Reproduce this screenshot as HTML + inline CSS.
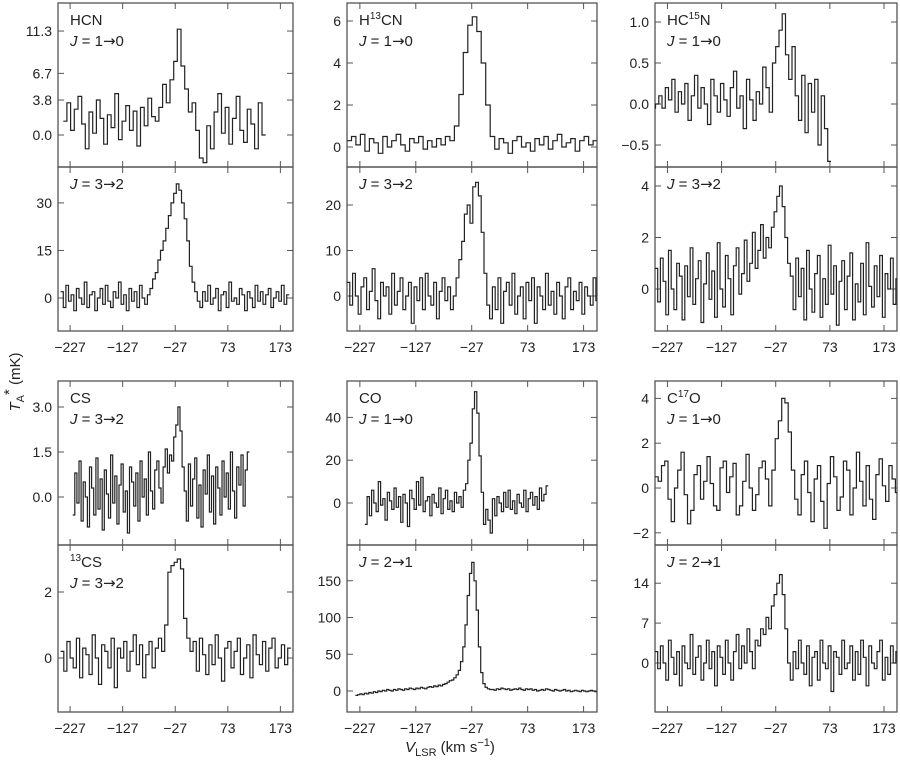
<!DOCTYPE html>
<html><head><meta charset="utf-8"><style>
body{margin:0;background:#fff;width:900px;height:763px;overflow:hidden;font-family:"Liberation Sans",sans-serif}
svg text{font-family:"Liberation Sans",sans-serif;fill:#222}
</style></head><body>
<svg id="chart" width="900" height="763" xmlns="http://www.w3.org/2000/svg">
<text transform="translate(20,382) rotate(-90)" text-anchor="middle" font-size="15"><tspan font-style="italic">T</tspan><tspan font-size="11" dy="4">A</tspan><tspan dy="-10">*</tspan><tspan dy="6"> (mK)</tspan></text>
<text x="450" y="752" text-anchor="middle" font-size="15"><tspan font-style="italic">V</tspan><tspan font-size="11" dy="4">LSR</tspan><tspan dy="-4"> (km s</tspan><tspan font-size="11" dy="-6">−1</tspan><tspan dy="6">)</tspan></text>
</svg>
<script>
const xTicks=[-227,-127,-27,73,173];
const hcn10=[1.5,3.5,0.5,2.8,4.2,1.2,-1.5,2.5,0.2,3.8,1.8,-1.0,2.2,0.8,4.5,-0.5,1.5,3.2,0.5,2.6,-1.2,3.0,1.0,4.0,2.0,1.5,3.0,5.5,3.5,6.0,8.0,11.5,7.5,5.0,2.5,3.5,0.5,-2.5,-3.0,1.0,-1.5,2.5,4.5,0.2,3.0,-1.0,1.8,4.2,0.5,-0.8,2.8,1.2,-1.5,3.5,0.0];
const hcn32=[2,-3,4,-1,1,-4,3,0,-2,5,-3,1,2,-4,0,3,-2,4,-1,-3,2,0,5,-2,1,-4,3,-1,2,-3,4,0,-2,1,3,6,8,12,15,18,22,26,30,33,36,34,30,25,18,10,5,2,-1,-3,2,-1,4,-2,0,3,-4,1,2,-3,5,-1,0,-2,3,1,-4,2,0,-3,4,-1,2,-2,1,3,-3,0,2,-1,4,-2,1];
const h13cn10=[0.3,0.5,0.1,0.6,-0.2,0.4,0.2,-0.3,0.5,0.0,0.3,0.6,0.1,-0.2,0.4,0.2,0.5,-0.1,0.3,0.0,0.4,0.1,0.5,0.3,1.0,2.5,4.5,5.8,6.2,5.5,4.0,2.0,0.5,-0.1,0.4,0.2,-0.3,0.3,0.5,0.0,0.2,-0.2,0.4,0.1,0.5,-0.1,0.3,0.6,0.0,0.2,0.4,-0.2,0.3,0.5,0.1,0.3];
const h13cn32=[3,-2,5,0,-4,2,4,-3,1,6,-1,-5,3,0,2,-4,5,-2,1,4,-3,0,3,-6,2,-1,4,-3,5,0,-2,3,-5,1,4,-1,2,-3,0,4,8,12,18,20,16,24,25,22,14,5,-2,-5,2,-3,4,-6,1,3,-2,5,-4,0,2,-5,3,-1,4,-6,2,0,-3,5,-2,1,-4,3,0,-5,2,4,-3,1,-1,3,-4,2,0,-2,4,-1];
const hc15n10=[-0.05,0.0,0.1,-0.05,0.2,0.05,0.3,-0.1,0.15,0.0,0.25,-0.2,0.1,0.35,-0.05,0.2,0.0,-0.25,0.3,0.1,-0.1,0.25,0.05,-0.15,0.2,0.4,-0.05,0.1,-0.3,0.3,0.05,-0.2,0.15,0.0,0.45,0.2,-0.1,0.5,0.7,0.9,1.1,0.6,0.3,0.7,0.1,-0.2,0.35,-0.35,0.25,-0.1,0.3,-0.5,0.1,-0.3,-0.7];
const hc15n32=[0.8,-0.5,1.2,0.3,-1.0,1.5,0.0,-0.8,1.0,0.5,-1.2,0.9,-0.3,1.6,-0.6,0.4,1.1,-1.3,0.2,1.4,-0.4,0.7,-1.1,1.8,0.0,-0.7,1.3,0.4,-1.0,0.9,1.6,-0.2,0.6,1.9,0.3,1.0,2.2,0.8,1.5,2.5,1.2,2.0,1.6,2.4,3.0,3.6,4.0,3.2,2.0,1.0,0.5,-0.8,1.2,-0.3,0.8,-1.2,1.5,0.0,-0.9,0.6,1.3,-1.1,0.4,-0.6,1.7,-0.2,0.9,-1.4,0.3,1.1,-0.8,0.5,1.4,-1.2,0.2,-0.5,1.0,-1.0,1.8,0.1,-0.7,0.9,-0.3,1.3,-1.1,0.6,0.0,1.2,-0.6,0.4];
const cs32=[-0.6,0.8,-0.2,1.2,-0.8,0.5,0.0,-1.0,1.0,0.3,-0.6,1.3,-0.4,0.6,-1.1,0.9,0.1,-0.7,1.4,-0.2,0.7,-0.9,0.4,1.1,-0.5,0.2,-1.2,1.0,0.5,-0.3,0.8,-0.8,1.2,0.0,0.6,-0.6,1.5,0.2,-0.4,0.9,1.2,0.3,-0.2,1.0,1.6,0.8,1.4,1.2,2.0,2.4,3.0,2.2,1.0,0.2,-0.8,1.1,-0.3,0.6,1.3,-0.7,0.4,-1.0,0.9,0.1,1.4,-0.5,0.7,-0.9,1.0,0.3,-0.6,1.2,0.0,0.8,-0.4,1.5,0.2,-0.7,1.0,0.4,1.4,-0.3,0.9,1.5];
const cs13_32=[0.2,-0.4,0.5,0.0,-0.3,0.6,-0.6,0.3,0.1,-0.5,0.7,0.0,-0.8,0.4,0.2,-0.3,0.6,-0.9,0.3,0.0,0.5,-0.4,0.2,0.7,-0.2,0.4,-0.6,0.1,0.5,-0.3,0.3,0.6,0.2,1.0,2.6,2.8,2.9,3.0,2.7,1.2,0.6,0.2,0.5,-0.4,0.6,0.1,-0.5,0.4,-0.2,0.7,0.0,-0.7,0.3,0.5,-0.3,0.2,0.6,-0.5,0.0,0.4,-0.6,0.7,0.1,-0.2,0.5,-0.4,0.3,0.6,-0.3,0.0,0.4,-0.2,0.3];
const co10=[-10,3,-6,6,0,-4,10,-1,2,-8,5,1,-3,7,-2,3,-9,4,0,-11,6,2,-3,10,-1,12,-4,1,3,-6,4,0,-2,7,-5,2,6,-3,1,-4,5,0,3,-2,6,9,20,28,44,52,42,22,5,-10,-3,-8,-14,2,-6,3,0,-4,5,-2,6,-3,1,-5,4,0,-2,6,-4,2,5,-1,3,-3,7,1,4,8];
const co21=[-6,-5,-4,-5,-3,-4,-2,-3,-1,-2,0,-1,1,0,2,1,0,2,1,3,2,1,3,2,4,3,2,4,3,5,4,3,5,6,5,7,6,8,7,9,10,12,14,15,18,22,28,40,60,90,130,160,175,150,110,60,25,10,5,3,2,2,1,3,2,4,3,2,3,1,2,3,2,4,2,1,3,2,3,1,2,0,1,2,1,3,2,1,0,2,1,0,1,2,0,1,-1,0,1,0,-1,1,0,-1,0,1,0,-1];
const c17o10=[0.5,0.3,1.0,1.2,-0.5,-1.5,0.0,0.8,1.6,-0.3,-1.6,-1.0,0.6,1.0,-0.5,0.3,1.4,0.2,-0.8,-1.0,0.9,1.2,-0.2,0.5,1.1,-1.2,-0.8,0.3,1.5,0.0,-1.0,-0.3,0.9,1.2,0.4,-0.8,0.8,2.2,3.0,4.0,3.8,2.5,0.8,-0.5,-1.2,0.6,1.2,-0.2,-1.5,0.4,1.0,-0.6,-1.8,0.2,1.4,0.5,-1.0,-0.4,1.2,0.8,-1.2,0.0,1.6,0.3,-0.8,1.0,-0.5,-1.4,0.6,1.3,0.1,-0.6,1.0,0.4,-0.2];
const c17o21=[2,-1,3,0,-3,4,1,-2,2,-4,3,0,-1,5,-2,1,3,-3,0,4,-1,2,-4,3,1,-2,4,0,-3,2,5,-1,3,0,6,2,-1,4,3,6,5,8,6,10,12,14,15.5,12,6,0,-3,2,-1,4,0,-2,3,-4,1,2,-3,4,0,-1,3,-5,2,1,-2,4,-1,0,3,-3,2,-2,4,1,-4,3,0,-1,2,4,-3,1,-2,3,0,2];

const svg=document.getElementById('chart');
const NS='http://www.w3.org/2000/svg';
const cols=[{x0:58,x1:293},{x0:347,x1:597},{x0:655,x1:897}];
const vmin=-250,vmax=197;
function mk(t,a){const e=document.createElementNS(NS,t);for(const k in a)e.setAttribute(k,a[k]);svg.appendChild(e);return e;}
const panels=[
 {n:'hcn-1-0',c:0,t:3,b:167,y0:135,k:9.2,ticks:[[0,'0.0'],[3.8,'3.8'],[6.7,'6.7'],[11.3,'11.3']],l1:'HCN',l2:'1',l3:'0',d:hcn10,v0:-240,dv:7},
 {n:'hcn-3-2',c:0,t:167,b:331,y0:298,k:3.17,ticks:[[0,'0'],[15,'15'],[30,'30']],l2:'3',l3:'2',d:hcn32,v0:-245,dv:5,xt:1},
 {n:'h13cn-1-0',c:1,t:3,b:167,y0:147,k:21,ticks:[[0,'0'],[2,'2'],[4,'4'],[6,'6']],l1:'H<tspan font-size="10" dy="-6">13</tspan><tspan dy="6">CN</tspan>',l2:'1',l3:'0',d:h13cn10,v0:-250,dv:8},
 {n:'h13cn-3-2',c:1,t:167,b:331,y0:296,k:4.55,ticks:[[0,'0'],[10,'10'],[20,'20']],l2:'3',l3:'2',d:h13cn32,v0:-250,dv:5,xt:1},
 {n:'hc15n-1-0',c:2,t:3,b:167,y0:104,k:82,ticks:[[-0.5,'−0.5'],[0,'0.0'],[0.5,'0.5'],[1,'1.0']],l1:'HC<tspan font-size="10" dy="-6">15</tspan><tspan dy="6">N</tspan>',l2:'1',l3:'0',d:hc15n10,v0:-255,dv:6},
 {n:'hc15n-3-2',c:2,t:167,b:331,y0:289,k:25.75,ticks:[[0,'0'],[2,'2'],[4,'4']],l2:'3',l3:'2',d:hc15n32,v0:-250,dv:5,xt:1},
 {n:'cs-3-2',c:0,t:381,b:545,y0:497,k:30,ticks:[[0,'0.0'],[1.5,'1.5'],[3,'3.0']],l1:'CS',l2:'3',l3:'2',d:cs32,v0:-222,dv:4},
 {n:'13cs-3-2',c:0,t:545,b:712,y0:658,k:33,ticks:[[0,'0'],[2,'2']],l1:'<tspan font-size="10" dy="-6">13</tspan><tspan dy="6">CS</tspan>',l2:'3',l3:'2',d:cs13_32,v0:-245,dv:6,xt:1},
 {n:'co-1-0',c:1,t:381,b:545,y0:503,k:2.14,ticks:[[0,'0'],[20,'20'],[40,'40']],l1:'CO',l2:'1',l3:'0',d:co10,v0:-218,dv:4},
 {n:'co-2-1',c:1,t:545,b:712,y0:691,k:0.735,ticks:[[0,'0'],[50,'50'],[100,'100'],[150,'150']],l2:'2',l3:'1',d:co21,v0:-235,dv:4,xt:1},
 {n:'c17o-1-0',c:2,t:381,b:545,y0:488,k:22.4,ticks:[[-2,'−2'],[0,'0'],[2,'2'],[4,'4']],l1:'C<tspan font-size="10" dy="-6">17</tspan><tspan dy="6">O</tspan>',l2:'1',l3:'0',d:c17o10,v0:-250,dv:6},
 {n:'c17o-2-1',c:2,t:545,b:712,y0:663,k:5.7,ticks:[[0,'0'],[7,'7'],[14,'14']],l2:'2',l3:'1',d:c17o21,v0:-250,dv:5,xt:1}
];
panels.forEach((p,i)=>{
 const c=cols[p.c];
 const xs=v=>c.x0+(v-vmin)/(vmax-vmin)*(c.x1-c.x0);
 const ys=v=>p.y0-v*p.k;
 const r=mk('rect',{x:c.x0,y:p.t,width:c.x1-c.x0,height:p.b-p.t,fill:'none',stroke:'#555','stroke-width':1.3});
 
 
 const cp=mk('clipPath',{id:'cp'+i});
 const cr=document.createElementNS(NS,'rect');cr.setAttribute('x',c.x0);cr.setAttribute('y',p.t);cr.setAttribute('width',c.x1-c.x0);cr.setAttribute('height',p.b-p.t);cp.appendChild(cr);
 p.ticks.forEach(t=>{
  const y=ys(t[0]);
  mk('line',{x1:c.x0,x2:c.x0+6,y1:y,y2:y,stroke:'#555'});
  mk('line',{x1:c.x1,x2:c.x1-6,y1:y,y2:y,stroke:'#555'});
  const tx=mk('text',{x:c.x0-6,y:y+5,'text-anchor':'end','font-size':14});
  tx.textContent=t[1];
  
  
 });
 xTicks.forEach(v=>{
  const x=xs(v);
  mk('line',{x1:x,x2:x,y1:p.b,y2:p.b-6,stroke:'#555'});
  mk('line',{x1:x,x2:x,y1:p.t,y2:p.t+6,stroke:'#555'});
  if(p.xt){const tx=mk('text',{x:x,y:p.b+21,'text-anchor':'middle','font-size':14});
   tx.textContent=v<0?'−'+(-v):String(v);
   
   }
 });
 let d='';
 p.d.forEach((v,j)=>{const xa=xs(p.v0+j*p.dv),xb=xs(p.v0+(j+1)*p.dv),y=ys(v);d+=(j?'L':'M')+xa.toFixed(1)+','+y.toFixed(1)+'L'+xb.toFixed(1)+','+y.toFixed(1);});
 const path=mk('path',{d:d,fill:'none',stroke:'#222','stroke-width':1.2,'clip-path':'url(#cp'+i+')'});
 
 
 let ly=p.t+22;
 if(p.l1){const t1=mk('text',{x:c.x0+12,y:ly,'font-size':15});t1.innerHTML=p.l1;
  
  ly+=21;}
 const t2=mk('text',{x:c.x0+12,y:ly,'font-size':15});
 t2.innerHTML='<tspan font-style="italic">J</tspan> = '+p.l2+'<tspan style="font-family:\'DejaVu Sans\',sans-serif">→</tspan>'+p.l3;
 
 
});
</script>
</body></html>
